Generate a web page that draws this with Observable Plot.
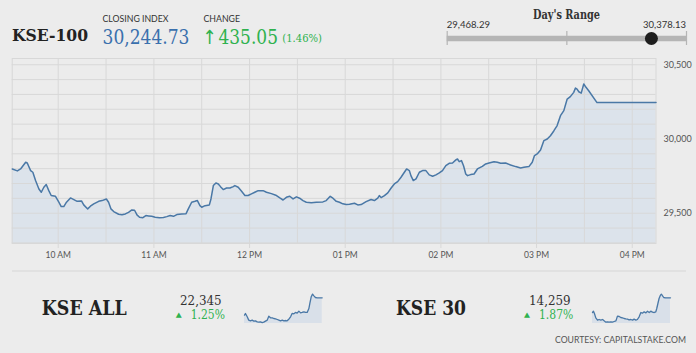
<!DOCTYPE html>
<html><head><meta charset="utf-8">
<script src="https://cdn.jsdelivr.net/npm/d3@7"></script>
<script src="https://cdn.jsdelivr.net/npm/@observablehq/plot@0.6"></script>
<style>
html,body{margin:0;padding:0;background:#ececec;}
#root{position:relative;width:696px;height:353px;overflow:hidden;background:#ececec;font-family:Lato,sans-serif;}
#root > svg, #root > div{position:absolute;}
</style></head><body><div id="root"></div>
<script>
// ---- Data ----
const indexName = "KSE-100";
const closingIndex = 30244.73;
const change = 435.05;
const changePct = "1.46%";
const dayLow = 29468.29;
const dayHigh = 30378.13;

// KSE-100 intraday: minutes after 09:30 and index value
const minutesAfter0930 = [1.2,4.4,6.4,9.6,10.6,12.7,14.1,15.8,17.9,19.4,21.0,22.5,24.1,25.6,28.3,30.4,31.9,33.5,35.2,37.7,39.8,41.9,44.6,46.0,48.5,50.2,52.3,55.4,57.5,60.2,61.6,63.1,64.8,67.9,70.0,72.1,74.1,76.2,77.9,79.4,81.0,83.1,85.0,86.6,88.7,90.8,93.5,96.0,98.1,100.2,102.3,104.4,107.5,110.2,111.6,113.7,115.8,117.3,118.9,120.0,122.1,124.8,125.8,127.3,128.9,130.4,131.8,133.5,135.6,137.7,139.8,140.8,142.9,145.0,147.1,149.1,151.2,153.3,155.4,158.5,160.6,163.7,166.9,169.0,171.0,173.1,175.2,177.3,179.4,181.4,183.5,185.6,188.7,191.9,196.0,198.1,200.6,202.3,204.4,206.4,208.5,210.6,212.7,215.8,217.9,220.0,223.1,226.2,228.3,230.4,231.4,232.5,234.6,236.7,238.7,240.8,242.9,245.0,247.1,248.5,250.2,251.2,252.7,254.4,256.5,258.5,260.6,262.7,264.8,266.9,269.0,271.0,273.1,275.2,277.3,279.4,280.4,281.5,282.9,284.2,285.6,286.7,288.7,290.8,292.9,296.0,298.1,300.2,303.3,305.4,307.5,310.6,313.7,316.9,320.0,322.1,325.2,327.3,328.7,330.4,332.5,334.6,336.7,338.7,340.8,342.9,345.0,347.1,349.2,351.2,353.3,354.4,355.4,356.5,358.0,359.6,361.0,362.7,367.9,404.9];
const kse100 = [29798,29785,29798,29843,29838,29787,29776,29720,29663,29641,29675,29693,29652,29619,29614,29574,29545,29545,29574,29603,29592,29580,29583,29556,29529,29547,29563,29580,29585,29596,29574,29529,29511,29493,29489,29495,29506,29522,29520,29489,29473,29470,29484,29482,29479,29473,29469,29471,29477,29484,29479,29491,29495,29497,29529,29574,29580,29585,29551,29540,29551,29556,29596,29686,29704,29697,29679,29659,29670,29670,29679,29686,29675,29648,29619,29619,29630,29641,29652,29652,29641,29632,29619,29603,29589,29607,29614,29596,29610,29601,29585,29574,29571,29574,29576,29585,29614,29601,29580,29574,29563,29558,29560,29567,29556,29558,29578,29592,29585,29601,29619,29605,29619,29637,29668,29697,29713,29742,29776,29798,29787,29753,29720,29731,29776,29787,29787,29758,29749,29758,29771,29787,29820,29836,29838,29859,29865,29847,29854,29820,29764,29753,29760,29764,29798,29816,29832,29838,29847,29843,29836,29838,29825,29814,29805,29809,29814,29843,29888,29899,29926,29989,30000,30022,30054,30090,30157,30191,30269,30285,30314,30343,30336,30318,30309,30370,30348,30325,30245,30245];

// Axis ticks
const hourTickLabels = ["10:00","11:00","12:00","13:00","14:00","15:00","16:00"];
const halfHourGrid = ["10:00","10:30","11:00","11:30","12:00","12:30","13:00","13:30","14:00","14:30","15:00","15:30","16:00"];
const yTickLabels = [29500, 30000, 30500];
const yGridValues = [29300,29400,29500,29600,29700,29800,29900,30000,30100,30200,30300,30400,30500];

// Bottom panels
const kseAllName = "KSE ALL", kseAllValue = "22,345", kseAllPct = "1.25%";
const kseAllMinutes = [0,5,14,22,31,40,48,57,66,74,83,92,100,109,118,126,135,144,152,161,170,178,187,196,204,213,221,230,239,247,256,265,273,282,291,299,308,317,325,334,339,346,353,360,368,377,403];
const kseAllValues = [22069,22096,22043,21990,21979,21990,21974,21979,21963,21958,21963,21952,21958,21974,21990,22053,22027,22027,22016,22011,22000,21990,21979,21990,21979,21984,21979,22005,22043,22096,22090,22112,22101,22133,22106,22112,22122,22112,22112,22175,22255,22361,22403,22376,22350,22345,22345];
const kse30Name = "KSE 30", kse30Value = "14,259", kse30Pct = "1.87%";
const kse30Minutes = [0,5,10,17,26,34,43,52,60,69,77,86,95,103,112,121,129,138,146,155,164,172,181,189,198,207,215,224,232,241,250,258,267,276,284,293,301,310,319,327,332,338,344,351,356,362,368,377,403];
const kse30Values = [13995,14019,13977,13899,13857,13869,13857,13869,13845,13821,13827,13821,13827,13821,13833,13845,13929,13923,13905,13899,13887,13881,13875,13863,13869,13857,13875,13857,13869,13917,13995,13983,14007,13989,14019,13995,14019,14001,13995,14007,14067,14157,14247,14307,14325,14295,14265,14259,14259];
const courtesy = "COURTESY: CAPITALSTAKE.COM";

// ---- Drawing ----
const root = document.getElementById("root");
const t0 = Date.UTC(2017, 0, 2, 9, 30);
const toDate = m => new Date(t0 + m * 60000);
const hm = s => { const [h, m] = s.split(":").map(Number); return new Date(Date.UTC(2017, 0, 2, h, m)); };
const BLUE = "#4a78a6", FILL = "#dce3eb", GRID = "#d8d8d8", GREEN = "#2fb24f";

const main = minutesAfter0930.map((m, i) => ({date: toDate(m), value: kse100[i]}));
const yMin = 29296, yMax = 30542;

const chart = Plot.plot({
  width: 696, height: 215,
  marginTop: 8, marginBottom: 22, marginLeft: 11.7, marginRight: 40.5,
  style: {background: "transparent", fontFamily: "Lato, sans-serif", fontSize: "9px", color: "#555", overflow: "visible"},
  x: {type: "utc", domain: [toDate(1.15), toDate(404.9)]},
  y: {domain: [yMin, yMax]},
  marks: [
    Plot.areaY(main, {x: "date", y1: yMin, y2: "value", fill: FILL}),
    Plot.gridY(yGridValues, {stroke: GRID, strokeOpacity: 1}),
    Plot.gridX(halfHourGrid.map(hm), {stroke: GRID, strokeOpacity: 1}),
    Plot.frame({stroke: GRID}),
    Plot.lineY(main, {x: "date", y: "value", stroke: BLUE, strokeWidth: 1.5}),
    Plot.axisX({ticks: hourTickLabels.map(hm), tickFormat: d3.utcFormat("%I %p"), tickSize: 5, tickPadding: 3, stroke: GRID, fill: "#555", label: null, fontSize: 8.5, letterSpacing: "-0.3px"}),
    Plot.axisY({ticks: yTickLabels, anchor: "right", tickSize: 0, tickPadding: 7.5, tickFormat: d3.format(","), label: null, fill: "#555", fontSize: 9, letterSpacing: "-0.5px"})
  ]
});
chart.style.left = "0px"; chart.style.top = "50px";
root.appendChild(chart);

// Day's range indicator
const rangePlot = Plot.plot({
  width: 270, height: 14, marginLeft: 16.7, marginRight: 14, marginTop: 0, marginBottom: 0,
  style: {background: "transparent", overflow: "visible"},
  x: {domain: [dayLow, dayHigh], axis: null},
  y: {domain: [0, 1], axis: null},
  marks: [
    Plot.ruleY([0.5], {x1: dayLow, x2: dayHigh, stroke: "#b5b5b5", strokeWidth: 5.5}),
    Plot.ruleX([dayLow, (dayLow + dayHigh) / 2, dayHigh], {stroke: "#b5b5b5", strokeWidth: 1.2}),
    Plot.dot([closingIndex], {x: d => d, y: 0.5, r: 6.5, fill: "#1e1e1e"})
  ]
});
rangePlot.style.left = "430px"; rangePlot.style.top = "31px";
root.appendChild(rangePlot);

// Sparklines
function spark(mins, vals, yDomain, base, left, mr) {
  const d = mins.map((m, i) => ({m, v: vals[i]}));
  const p = Plot.plot({
    width: 90, height: 40, marginLeft: 4, marginRight: mr, marginTop: 0, marginBottom: 0,
    style: {background: "transparent", overflow: "visible"},
    x: {domain: [0, 403], axis: null},
    y: {domain: yDomain, axis: null},
    marks: [
      Plot.areaY(d, {x: "m", y1: base, y2: "v", fill: "#d9e0e9"}),
      Plot.lineY(d, {x: "m", y: "v", stroke: BLUE, strokeWidth: 1.3})
    ]
  });
  p.style.left = left + "px"; p.style.top = "288px";
  root.appendChild(p);
}
spark(kseAllMinutes, kseAllValues, [21857, 22493], 21936, 240, 8.3);
spark(kse30Minutes, kse30Values, [13707, 14427], 13797, 588, 8);

// Texts
const fmt2 = d3.format(",.2f");
const NS = "http://www.w3.org/2000/svg";
const tsvg = document.createElementNS(NS, "svg");
tsvg.setAttribute("width", 696); tsvg.setAttribute("height", 353);
tsvg.style.left = "0px"; tsvg.style.top = "0px"; tsvg.style.pointerEvents = "none";
root.appendChild(tsvg);
function txt(s, x, y, o) {
  const e = document.createElementNS(NS, "text");
  if (Array.isArray(s)) {
    for (const part of s) {
      const sp = document.createElementNS(NS, "tspan");
      sp.textContent = part.t;
      if (part.f) sp.setAttribute("font-family", part.f);
      if (part.dx) sp.setAttribute("dx", part.dx);
      if (part.dy) sp.setAttribute("dy", part.dy);
      if (part.s) sp.setAttribute("font-size", part.s);
      e.appendChild(sp);
    }
  } else e.textContent = s;
  e.setAttribute("x", x); e.setAttribute("y", y);
  e.setAttribute("font-family", o.f || "Lato, sans-serif");
  e.setAttribute("font-size", o.s);
  if (o.w) e.setAttribute("font-weight", o.w);
  e.setAttribute("fill", o.c || "#333");
  if (o.a) e.setAttribute("text-anchor", o.a);
  if (o.len) { e.setAttribute("textLength", o.len); e.setAttribute("lengthAdjust", "spacingAndGlyphs"); }
  tsvg.appendChild(e);
}
const SERIF = "'DejaVu Serif', serif";
// separator
const sep = document.createElementNS(NS, "line");
sep.setAttribute("x1", 12); sep.setAttribute("x2", 686); sep.setAttribute("y1", 271); sep.setAttribute("y2", 271);
sep.setAttribute("stroke", "#d6d6d6"); sep.setAttribute("stroke-width", 1.2);
tsvg.appendChild(sep);

txt(indexName, 12, 40.7, {f: SERIF, s: 17, w: "bold", c: "#222", len: 76});
txt("CLOSING INDEX", 102.5, 22, {s: 8.5, c: "#333", len: 66});
txt(fmt2(closingIndex), 102.5, 44.3, {f: SERIF, s: 19.5, c: "#3a70ad", len: 87});
txt("CHANGE", 203.5, 22, {s: 8.5, c: "#333", len: 36.5});
txt([
  {t: "↑", f: "'DejaVu Sans', sans-serif"},
  {t: fmt2(change), f: SERIF, dx: 2},
  {t: "(" + changePct + ")", f: SERIF, s: 11.5, dx: 5, dy: -2.5}
], 202.5, 44.3, {f: SERIF, s: 19.5, c: GREEN, len: 119.5});

txt("Day's Range", 566.5, 18.8, {f: SERIF, s: 12.5, w: "bold", c: "#333", a: "middle", len: 67});
txt(fmt2(dayLow), 446.7, 28.3, {s: 10, c: "#333", len: 43.3});
txt(fmt2(dayHigh), 686, 28.3, {s: 10, c: "#333", a: "end", len: 43});

txt(kseAllName, 41.7, 315, {f: SERIF, s: 21, w: "bold", c: "#222", len: 85});
txt(kseAllValue, 180, 305, {f: SERIF, s: 13, c: "#333", len: 41.7});
txt("▲", 175.8, 316.7, {f: "'DejaVu Sans', sans-serif", s: 7, c: GREEN, len: 6});
txt(kseAllPct, 190.7, 319.3, {f: SERIF, s: 12.5, c: GREEN, len: 34.3});

txt(kse30Name, 396, 315, {f: SERIF, s: 21, w: "bold", c: "#222", len: 70});
txt(kse30Value, 529, 305, {f: SERIF, s: 13, c: "#333", len: 41.7});
txt("▲", 524, 316.7, {f: "'DejaVu Sans', sans-serif", s: 7, c: GREEN, len: 6});
txt(kse30Pct, 539, 319.3, {f: SERIF, s: 12.5, c: GREEN, len: 34.3});

txt(courtesy, 686, 342.7, {s: 8.5, c: "#555", a: "end", len: 131});
</script></body></html>
